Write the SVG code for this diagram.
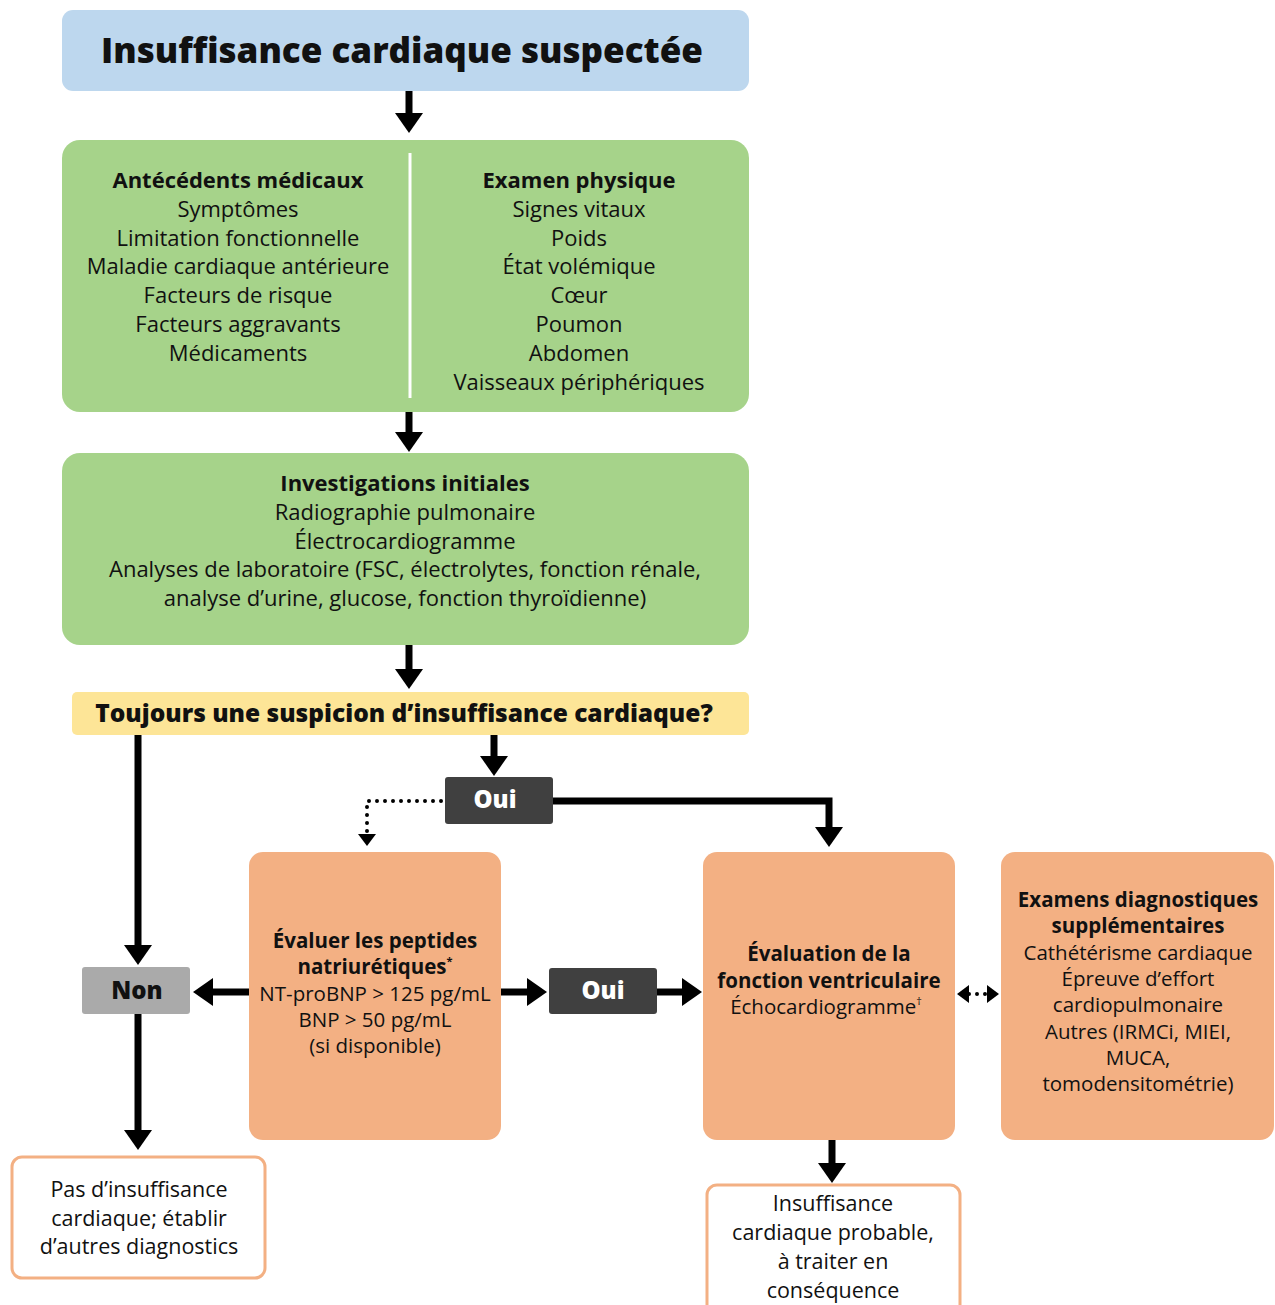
<svg xmlns="http://www.w3.org/2000/svg" width="1275" height="1305" viewBox="0 0 1275 1305">
<style>
text{font-family:"Open Sans","Liberation Sans",sans-serif;fill:#111;text-anchor:middle}
.t{font-size:20.5px}
.g{font-size:22px}
.o{font-size:21.5px}
.b{font-weight:bold}
.title{font-size:35px;font-weight:800}
.q{font-size:24.5px;font-weight:800}
.lab{font-size:24px;font-weight:800}
.w{fill:#fff}
.s{stroke:#000;stroke-width:7;fill:none}
.d{stroke:#000;stroke-width:4;fill:none;stroke-dasharray:0 8;stroke-linecap:round}
</style>
<defs>
<marker id="ah" markerUnits="userSpaceOnUse" viewBox="0 0 20 28" refX="0" refY="14" markerWidth="20" markerHeight="28" orient="auto"><path d="M0,0 L20,14 L0,28 z" fill="#000"/></marker>
<marker id="ahs" markerUnits="userSpaceOnUse" viewBox="0 0 12 18" refX="0" refY="9" markerWidth="12" markerHeight="18" orient="auto"><path d="M0,0 L12,9 L0,18 z" fill="#000"/></marker>
<marker id="ahss" markerUnits="userSpaceOnUse" viewBox="0 0 12 18" refX="0" refY="9" markerWidth="12" markerHeight="18" orient="auto-start-reverse"><path d="M0,0 L12,9 L0,18 z" fill="#000"/></marker>
</defs>

<g id="connectors">
<line class="s" x1="409" y1="91" x2="409" y2="113" marker-end="url(#ah)"/>
<line class="s" x1="409" y1="412" x2="409" y2="432" marker-end="url(#ah)"/>
<line class="s" x1="409" y1="645" x2="409" y2="669" marker-end="url(#ah)"/>
<line class="s" x1="138" y1="735" x2="138" y2="945" marker-end="url(#ah)"/>
<line class="s" x1="494" y1="735" x2="494" y2="756" marker-end="url(#ah)"/>
<polyline class="s" points="553,801 829,801 829,827" marker-end="url(#ah)"/>
<polyline class="d" points="441,801 367,801 367,834" marker-end="url(#ahs)"/>
<line class="s" x1="249" y1="992" x2="213" y2="992" marker-end="url(#ah)"/>
<line class="s" x1="501" y1="992" x2="527" y2="992" marker-end="url(#ah)"/>
<line class="s" x1="657" y1="992" x2="682" y2="992" marker-end="url(#ah)"/>
<line class="d" x1="969" y1="994" x2="987" y2="994" marker-start="url(#ahss)" marker-end="url(#ahss)"/>
<line class="s" x1="138" y1="1014" x2="138" y2="1130" marker-end="url(#ah)"/>
<line class="s" x1="832" y1="1140" x2="832" y2="1163" marker-end="url(#ah)"/>
</g>

<g id="n-title">
<rect x="62" y="10" width="687" height="81" rx="11" fill="#bdd7ee"/>
<text class="title" x="402" y="63">Insuffisance cardiaque suspectée</text>
</g>

<g id="n-history">
<rect x="62" y="140" width="687" height="272" rx="18" fill="#a6d38a"/>
<line x1="410" y1="153" x2="410" y2="398" stroke="#fff" stroke-width="3"/>
<text class="g" x="238" y="188"><tspan class="b">Antécédents médicaux</tspan><tspan x="238" dy="28.8">Symptômes</tspan><tspan x="238" dy="28.8">Limitation fonctionnelle</tspan><tspan x="238" dy="28.8">Maladie cardiaque antérieure</tspan><tspan x="238" dy="28.8">Facteurs de risque</tspan><tspan x="238" dy="28.8">Facteurs aggravants</tspan><tspan x="238" dy="28.8">Médicaments</tspan></text>
<text class="g" x="579" y="188"><tspan class="b">Examen physique</tspan><tspan x="579" dy="28.8">Signes vitaux</tspan><tspan x="579" dy="28.8">Poids</tspan><tspan x="579" dy="28.8">État volémique</tspan><tspan x="579" dy="28.8">Cœur</tspan><tspan x="579" dy="28.8">Poumon</tspan><tspan x="579" dy="28.8">Abdomen</tspan><tspan x="579" dy="28.8">Vaisseaux périphériques</tspan></text>
</g>

<g id="n-investigations">
<rect x="62" y="453" width="687" height="192" rx="18" fill="#a6d38a"/>
<text class="g" x="405" y="491"><tspan class="b">Investigations initiales</tspan><tspan x="405" dy="28.8">Radiographie pulmonaire</tspan><tspan x="405" dy="28.8">Électrocardiogramme</tspan><tspan x="405" dy="28.8">Analyses de laboratoire (FSC, électrolytes, fonction rénale,</tspan><tspan x="405" dy="28.8">analyse d’urine, glucose, fonction thyroïdienne)</tspan></text>
</g>

<g id="n-question">
<rect x="72" y="692" width="677" height="43" rx="5" fill="#fde597"/>
<text class="q" x="404" y="722">Toujours une suspicion d’insuffisance cardiaque?</text>
</g>

<g id="n-oui1">
<rect x="445" y="777" width="108" height="47" rx="3" fill="#404040"/>
<text class="lab w" x="495" y="808">Oui</text>
</g>

<g id="n-non">
<rect x="82" y="967" width="108" height="47" rx="3" fill="#aaaaaa"/>
<text class="lab" x="137" y="999">Non</text>
</g>

<g id="n-peptides">
<rect x="249" y="852" width="252" height="288" rx="14" fill="#f3b083"/>
<text class="t" x="375" y="948"><tspan class="b">Évaluer les peptides</tspan><tspan class="b" x="375" dy="26.3">natriurétiques<tspan font-size="11" dy="-9">*</tspan></tspan><tspan x="375" dy="35.3">NT-proBNP &gt; 125 pg/mL</tspan><tspan x="375" dy="26.3">BNP &gt; 50 pg/mL</tspan><tspan x="375" dy="26.3">(si disponible)</tspan></text>
</g>

<g id="n-oui2">
<rect x="549" y="968" width="108" height="46" rx="3" fill="#404040"/>
<text class="lab w" x="603" y="999">Oui</text>
</g>

<g id="n-ventricular">
<rect x="703" y="852" width="252" height="288" rx="14" fill="#f3b083"/>
<text class="t" x="829" y="961"><tspan class="b">Évaluation de la</tspan><tspan class="b" x="829" dy="26.5">fonction ventriculaire</tspan><tspan x="826" dy="26.5">Échocardiogramme<tspan font-size="11" dy="-9">†</tspan></tspan></text>
</g>

<g id="n-additional">
<rect x="1001" y="852" width="273" height="288" rx="14" fill="#f3b083"/>
<text class="t" x="1138" y="907"><tspan class="b">Examens diagnostiques</tspan><tspan class="b" x="1138" dy="26.3">supplémentaires</tspan><tspan x="1138" dy="26.3">Cathétérisme cardiaque</tspan><tspan x="1138" dy="26.3">Épreuve d’effort</tspan><tspan x="1138" dy="26.3">cardiopulmonaire</tspan><tspan x="1138" dy="26.3">Autres (IRMCi, MIEI,</tspan><tspan x="1138" dy="26.3">MUCA,</tspan><tspan x="1138" dy="26.3">tomodensitométrie)</tspan></text>
</g>

<g id="n-nohf">
<rect x="12" y="1157" width="253" height="121" rx="10" fill="#fff" stroke="#f3b083" stroke-width="3"/>
<text class="o" x="139" y="1197"><tspan>Pas d’insuffisance</tspan><tspan x="139" dy="28.7">cardiaque; établir</tspan><tspan x="139" dy="28.7">d’autres diagnostics</tspan></text>
</g>

<g id="n-probable">
<rect x="707" y="1185" width="253" height="130" rx="10" fill="#fff" stroke="#f3b083" stroke-width="3"/>
<text class="o" x="833" y="1211"><tspan>Insuffisance</tspan><tspan x="833" dy="29">cardiaque probable,</tspan><tspan x="833" dy="29">à traiter en</tspan><tspan x="833" dy="29">conséquence</tspan></text>
</g>
</svg>
